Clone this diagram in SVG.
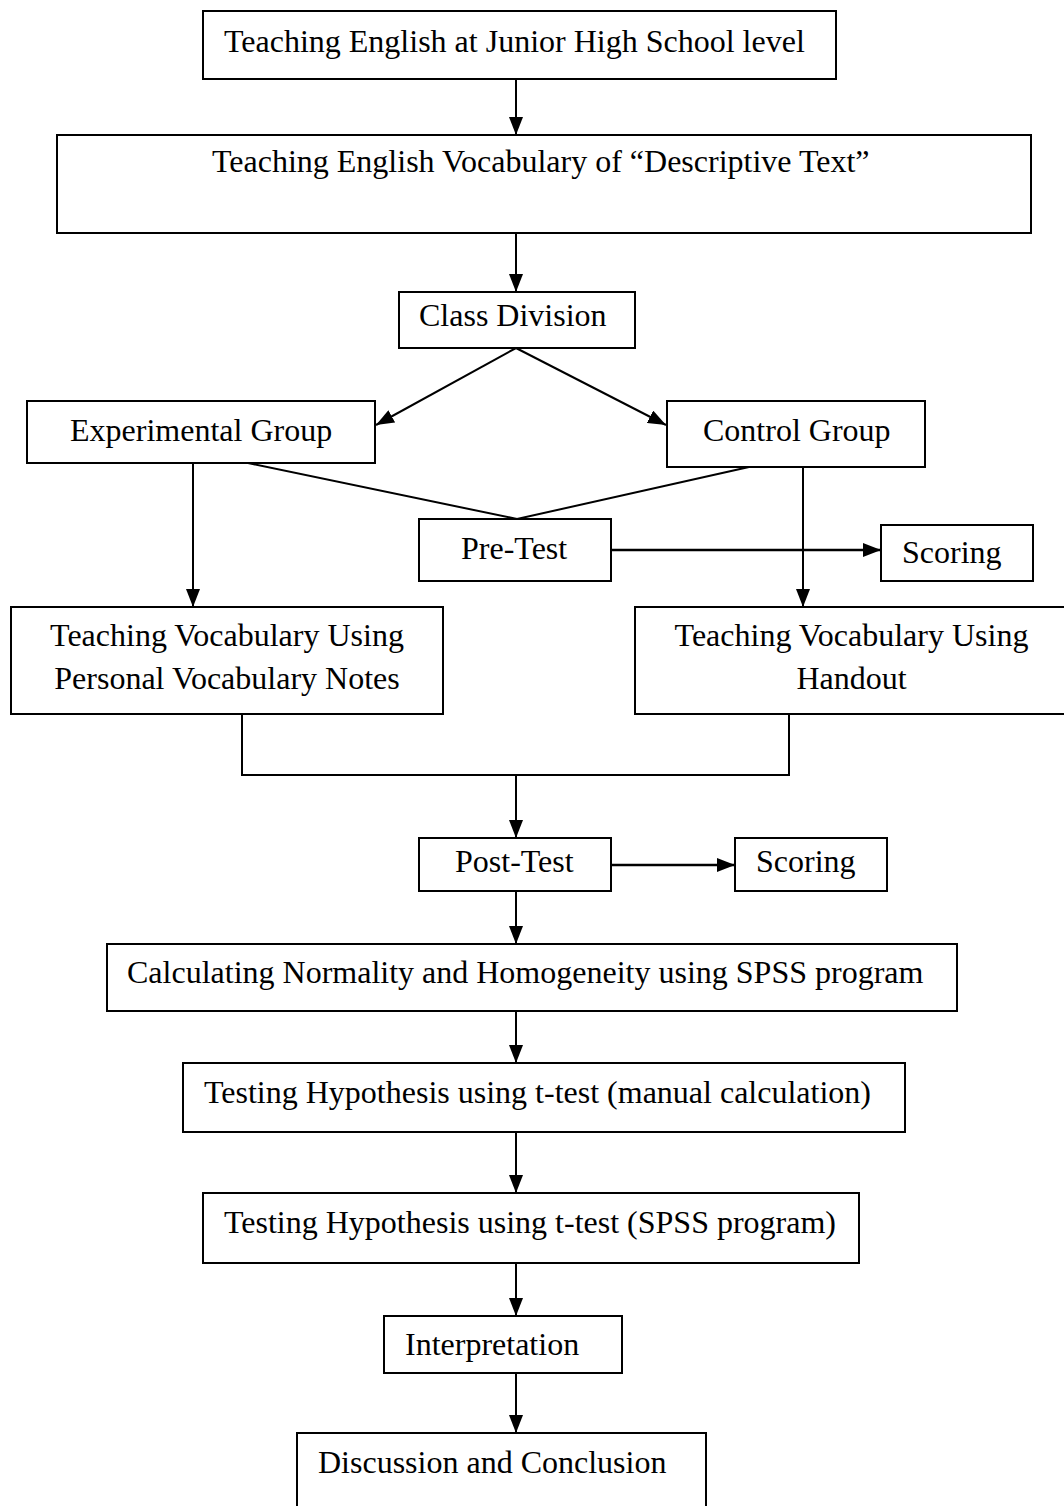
<svg xmlns="http://www.w3.org/2000/svg" width="1064" height="1506" viewBox="0 0 1064 1506">
<style>
.box{fill:#fff;stroke:#000;stroke-width:2}
.t{font-family:"Liberation Serif","Times New Roman",serif;font-size:32px;fill:#000}
.c{text-anchor:middle}
.ln{fill:none;stroke:#000;stroke-width:2}
.thick{stroke-width:2.6}
</style>
<defs>
<marker id="ah" markerUnits="userSpaceOnUse" markerWidth="18" markerHeight="14" viewBox="0 0 18 14" refX="18" refY="7" orient="auto">
<path d="M0,0 L18,7 L0,14 Z" fill="#000"/>
</marker>
</defs>
<rect width="1064" height="1506" fill="#fff"/>
<g id="connectors">
<line class="ln" x1="516" y1="79" x2="516" y2="135" marker-end="url(#ah)"/>
<line class="ln" x1="516" y1="233" x2="516" y2="292" marker-end="url(#ah)"/>
<line class="ln" x1="516" y1="348" x2="376" y2="425" marker-end="url(#ah)"/>
<line class="ln" x1="516" y1="348" x2="666" y2="425" marker-end="url(#ah)"/>
<line class="ln" x1="193" y1="463" x2="193" y2="607" marker-end="url(#ah)"/>
<line class="ln" x1="803" y1="467" x2="803" y2="607" marker-end="url(#ah)"/>
<polyline class="ln" points="248,463 517,519 749,467"/>
<line class="ln thick" x1="611" y1="550" x2="881" y2="550" marker-end="url(#ah)"/>
<polyline class="ln" points="242,714 242,775 789,775 789,714"/>
<line class="ln" x1="516" y1="775" x2="516" y2="838" marker-end="url(#ah)"/>
<line class="ln thick" x1="611" y1="865" x2="735" y2="865" marker-end="url(#ah)"/>
<line class="ln" x1="516" y1="891" x2="516" y2="944" marker-end="url(#ah)"/>
<line class="ln" x1="516" y1="1011" x2="516" y2="1063" marker-end="url(#ah)"/>
<line class="ln" x1="516" y1="1132" x2="516" y2="1193" marker-end="url(#ah)"/>
<line class="ln" x1="516" y1="1263" x2="516" y2="1316" marker-end="url(#ah)"/>
<line class="ln" x1="516" y1="1373" x2="516" y2="1433" marker-end="url(#ah)"/>
</g>
<g id="n1"><rect class="box" x="203" y="11" width="633" height="68"/><text class="t" x="224" y="52">Teaching English at Junior High School level</text></g>
<g id="n2"><rect class="box" x="57" y="135" width="974" height="98"/><text class="t" x="212" y="172">Teaching English Vocabulary of “Descriptive Text”</text></g>
<g id="n3"><rect class="box" x="399" y="292" width="236" height="56"/><text class="t" x="419" y="326">Class Division</text></g>
<g id="n4"><rect class="box" x="27" y="401" width="348" height="62"/><text class="t" x="70" y="441">Experimental Group</text></g>
<g id="n5"><rect class="box" x="667" y="401" width="258" height="66"/><text class="t" x="703" y="441">Control Group</text></g>
<g id="n6"><rect class="box" x="419" y="519" width="192" height="62"/><text class="t" x="461" y="559">Pre-Test</text></g>
<g id="n7"><rect class="box" x="881" y="525" width="152" height="56"/><text class="t" x="902" y="563">Scoring</text></g>
<g id="n8"><rect class="box" x="11" y="607" width="432" height="107"/><text class="t c" x="227" y="646">Teaching Vocabulary Using</text><text class="t c" x="227" y="689">Personal Vocabulary Notes</text></g>
<g id="n9"><rect class="box" x="635" y="607" width="433" height="107"/><text class="t c" x="851.5" y="646">Teaching Vocabulary Using</text><text class="t c" x="851.5" y="689">Handout</text></g>
<g id="n10"><rect class="box" x="419" y="838" width="192" height="53"/><text class="t" x="455" y="872">Post-Test</text></g>
<g id="n11"><rect class="box" x="735" y="838" width="152" height="53"/><text class="t" x="756" y="872">Scoring</text></g>
<g id="n12"><rect class="box" x="107" y="944" width="850" height="67"/><text class="t" x="127" y="983">Calculating Normality and Homogeneity using SPSS program</text></g>
<g id="n13"><rect class="box" x="183" y="1063" width="722" height="69"/><text class="t" x="204" y="1103">Testing Hypothesis using t-test (manual calculation)</text></g>
<g id="n14"><rect class="box" x="203" y="1193" width="656" height="70"/><text class="t" x="224" y="1233">Testing Hypothesis using t-test (SPSS program)</text></g>
<g id="n15"><rect class="box" x="384" y="1316" width="238" height="57"/><text class="t" x="405" y="1355">Interpretation</text></g>
<g id="n16"><rect class="box" x="297" y="1433" width="409" height="80"/><text class="t" x="318" y="1473">Discussion and Conclusion</text></g>
</svg>
